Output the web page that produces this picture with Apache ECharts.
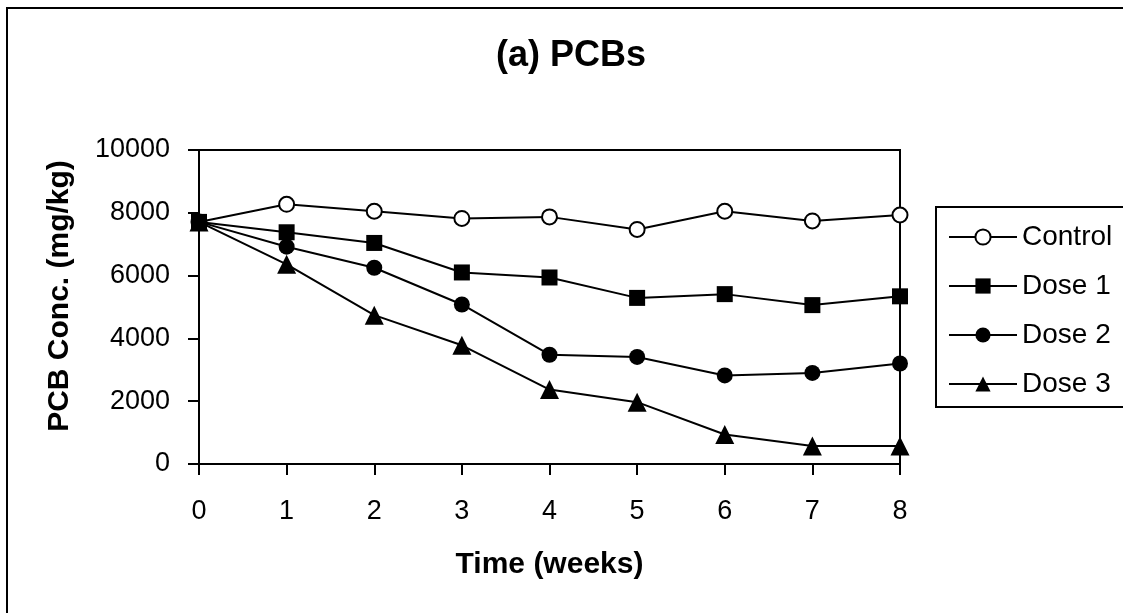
<!DOCTYPE html>
<html>
<head>
<meta charset="utf-8">
<title>(a) PCBs</title>
<script src="https://cdn.jsdelivr.net/npm/echarts@6/dist/echarts.min.js"></script>
<style>
  html, body { margin: 0; padding: 0; background: #fff; }
  #chart { width: 1123px; height: 613px; }
</style>
</head>
<body>
<div id="chart"></div>
<script>
// time in weeks
var weeks = [0, 1, 2, 3, 4, 5, 6, 7, 8];
var yTicks = [0, 2000, 4000, 6000, 8000, 10000];

// PCB conc. (mg/kg)
var control = [7710, 8270, 8050, 7820, 7870, 7470, 8050, 7740, 7930];
var dose1 = [7710, 7380, 7040, 6100, 5940, 5290, 5410, 5060, 5340];
var dose2 = [7710, 6920, 6250, 5080, 3480, 3410, 2820, 2900, 3200];
var dose3 = [7710, 6360, 4740, 3780, 2370, 1970, 940, 570, 570];

var seriesNames = ['Control', 'Dose 1', 'Dose 2', 'Dose 3'];

function pairs(vals) {
    return weeks.map(function (w, i) { return [w, vals[i]]; });
}

var font = 'Liberation Sans, Arial, sans-serif';

function lineSeries(name, vals, symbol, size) {
    return {
        name: name,
        type: 'line',
        data: pairs(vals),
        symbol: symbol,
        symbolSize: size,
        color: '#000',
        lineStyle: { color: '#000', width: 2 },
        itemStyle: symbol === 'emptyCircle'
            ? { color: '#000', borderColor: '#000', borderWidth: 2 }
            : { color: '#000', borderColor: '#000', borderWidth: 0 },
        emphasis: { disabled: true },
        animation: false
    };
}

var myChart = echarts.init(document.getElementById('chart'));

var option = {
    backgroundColor: '#fff',
    animation: false,
    title: {
        text: '(a) PCBs',
        left: 571,
        top: 38,
        textAlign: 'center',
        padding: 0,
        textStyle: {
            fontFamily: font,
            fontWeight: 'bold',
            fontSize: 36,
            color: '#000'
        }
    },
    legend: {
        data: seriesNames,
        orient: 'vertical',
        left: 936,
        top: 207,
        padding: [16, 20, 9, 12],
        itemWidth: 68,
        itemHeight: 19,
        itemGap: 21,
        borderColor: '#000',
        borderWidth: 2,
        borderRadius: 0,
        textStyle: {
            fontFamily: font,
            fontSize: 28,
            color: '#000'
        }
    },
    graphic: [{
        type: 'rect',
        shape: { x: 7, y: 8, width: 1130, height: 620 },
        style: { fill: 'none', stroke: '#000', lineWidth: 2 },
        silent: true
    }],
    grid: {
        left: 199,
        right: 223,
        top: 150,
        bottom: 149,
        show: true,
        borderColor: '#000',
        borderWidth: 2,
        backgroundColor: 'transparent'
    },
    xAxis: {
        type: 'value',
        min: weeks[0],
        max: weeks[weeks.length - 1],
        interval: 1,
        name: 'Time (weeks)',
        nameLocation: 'middle',
        nameGap: 86,
        nameTextStyle: {
            fontFamily: font,
            fontWeight: 'bold',
            fontSize: 30,
            color: '#000'
        },
        axisLine: { show: true, lineStyle: { color: '#000', width: 2 } },
        axisTick: { show: true, inside: false, length: 11, lineStyle: { color: '#000', width: 2 } },
        axisLabel: {
            margin: 34,
            fontFamily: font,
            fontSize: 27,
            color: '#000'
        },
        splitLine: { show: false }
    },
    yAxis: {
        type: 'value',
        min: yTicks[0],
        max: yTicks[yTicks.length - 1],
        interval: 2000,
        name: 'PCB Conc. (mg/kg)',
        nameLocation: 'middle',
        nameGap: 124,
        nameTextStyle: {
            fontFamily: font,
            fontWeight: 'bold',
            fontSize: 30,
            color: '#000',
            padding: [0, 0, 0, 22]
        },
        axisLine: { show: true, lineStyle: { color: '#000', width: 2 } },
        axisTick: { show: true, inside: false, length: 11, lineStyle: { color: '#000', width: 2 } },
        axisLabel: {
            margin: 29,
            fontFamily: font,
            fontSize: 27,
            color: '#000',
            formatter: function (v) { return String(v); }
        },
        splitLine: { show: false }
    },
    series: [
        lineSeries(seriesNames[0], control, 'emptyCircle', 15),
        lineSeries(seriesNames[1], dose1, 'rect', 16),
        lineSeries(seriesNames[2], dose2, 'circle', 16),
        lineSeries(seriesNames[3], dose3, 'triangle', 19)
    ]
};

myChart.setOption(option);
</script>
</body>
</html>
